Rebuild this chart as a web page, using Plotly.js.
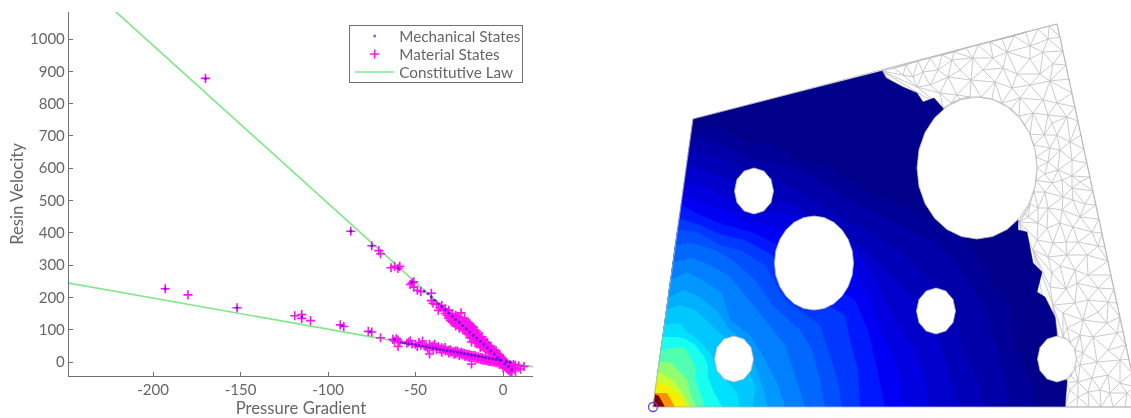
<!DOCTYPE html>
<html><head><meta charset="utf-8">
<script src="https://cdn.plot.ly/plotly-3.0.1.min.js"></script>
<style>html,body{margin:0;padding:0;background:#fff}#plot{width:1131px;height:418px;filter:blur(0.6px)}</style>
</head><body><div id="plot"></div>
<script>
// ---------- left chart: values ----------
const lawGradient = [-222,0,8,null,-248.6,0,17];
const lawVelocity = [1088,2,-43,null,245,5,-15];

const materialUpperG = [-170,-87,-75,-71,-70,-64,-62,-60,-59,-52,-53,-51,-51,-49,-47,-41,-41,-40,-38,-36,-34,-33,-31,-30,-30,-29,-28,-28,-27,-27,-26,-25,-24,-24,-23,-22,-22,-21,-21,-20,-20,-19,-19,-18,-18,-17,-17,-16,-16,-15,-15,-14,-14,-13,-13,-12,-12,-11,-11,-10,-10,-9,-9,-8,-8,-7,-7,-6,-6,-5,-5,-4,-4,-3,-3,-2,-2,-1,-1,0,0,1,1,2,2,3,3,4,4,5,5,6,7,7,9,10,12];
const materialUpperV = [878,405,360,345,335,292,296,290,296,245,240,232,248,222,218,213,190,182,178,168,162,150,160,142,128,150,135,120,125,145,118,135,108,152,128,115,100,125,92,108,85,118,75,100,62,90,108,82,70,95,60,75,88,65,52,78,58,68,45,55,38,60,48,42,30,48,35,25,40,30,18,22,35,12,25,15,5,10,-5,0,8,-5,-12,-8,-20,-10,-25,-15,-30,-12,-22,-18,-28,-10,-12,-22,-14];
const denseUpperG = [-37,-35,-33,-32,-31,-29,-27,-26,-25,-24,-23,-22,-21,-20,-20,-19,-19,-18,-18,-17,-17,-16,-16,-15,-15,-14,-14,-13,-13,-12,-12,-11,-10,-10,-9,-9,-8,-8,-7,-7,-6,-5,-5,-4,-4,-3,-2,-2,-1,-1,0,0,1,2,3,4,4,5,6];
const denseUpperV = [160,175,165,145,135,125,112,140,105,125,100,135,110,95,120,90,105,80,112,75,98,92,60,80,68,60,68,75,45,65,48,55,62,45,40,52,50,35,28,40,32,24,38,14,28,18,22,-5,0,15,-8,-18,2,-2,-18,-8,-22,-30,-8];
const materialLowerG = [-193,-180,-152,-119,-115,-115,-110,-93,-91,-77,-75,-70,-63,-62,-61,-60,-59,-60,-54,-53,-52,-48,-47,-46,-44,-42,-42,-41,-40,-39,-38,-37,-35,-34,-33,-32,-31,-30,-29,-28,-27,-26,-25,-24,-23,-22,-21,-20,-19,-18,-18,-17,-16,-15,-14,-13,-12,-11,-10,-9,-8,-7,-6,-5,-4,-3];
const materialLowerV = [227,208,168,143,147,135,128,115,110,95,93,75,70,65,72,68,62,48,62,66,56,60,52,65,48,55,25,48,42,55,38,48,30,40,45,35,28,38,32,24,34,28,20,30,22,26,18,24,14,20,-6,14,20,10,16,8,14,6,12,4,8,2,6,0,4,-2];
const denseLowerG = [-55,-50,-49,-45,-43,-40,-38,-36,-35,-33,-31,-30,-28,-27,-26,-25,-24,-23,-22,-21,-20,-19,-18,-17,-16,-15,-14,-13,-12,-11,-10,-9,-8,-7,-6,-5,-4,-3,-2];
const denseLowerV = [58,55,48,50,42,50,45,40,44,35,36,30,32,26,34,28,24,28,18,24,16,22,14,20,12,16,10,14,6,10,5,9,2,6,0,5,-2,2,0];

const mechanicalG = [-170,-87,-75,-60,-52,-45,-43,-41,-39,-37,-35,-33,-31,-29,-27,-25,-23,-21,-19,-17,-15,-13,-11,-9,-7,-5,-3,-1,1,3,5,-193,-152,-115,-92,-76,-62,-58,-56,-54,-52,-50,-48,-46,-44,-42,-40,-38,-36,-34,-32,-30,-28,-26,-24,-22,-20,-18,-16,-14,-12,-10,-8,-6,-4,-2,2,4];
const mechanicalV = [878,405,360,290,248,220,211,201,191,181,172,162,152,142,132,123,113,103,93,83,74,64,54,44,34,25,15,5,-5,-14,-24,227,168,140,112,94,70,60,58,56,55,53,51,49,47,45,43,41,39,37,36,34,32,30,28,26,24,22,20,18,16,14,12,10,8,6,2,-1];

// ---------- right chart: geometry ----------
const fieldOutline = [[653,407],[693,119],[882,71],[886,78],[903,87],[917,93],[923,102],[934,98],[942,107],[1018,218],[1018,230],[1027,232],[1033,263],[1042,272],[1037,292],[1045,297],[1055,317],[1057,335],[1067,382],[1065,407]];
const plateOutline = [[653,407],[693,119],[1057,24],[1139,407]];

const band1=[[692,130],[720,128],[745,142],[775,145],[800,160],[830,168],[862,190],[905,207],[940,222],[975,250],[990,285],[1008,300],[1015,345],[1030,380],[1035,407],[653,407]];
const band2=[[691,138],[725,145],[755,160],[790,165],[825,185],[860,205],[900,225],[940,245],[965,275],[985,310],[995,345],[1005,378],[1010,407],[653,407]];
const band3=[[689,150],[720,158],[745,170],[775,178],[805,195],[840,215],[875,235],[905,255],[935,285],[955,320],[965,355],[980,385],[985,407],[653,407]];
const band4=[[687,165],[715,175],[738,182],[760,198],[795,205],[825,225],[858,245],[885,270],[915,300],[940,340],[950,375],[958,407],[653,407]];
const band5=[[685,182],[712,190],[730,200],[755,213],[790,213],[830,230],[860,255],[878,285],[895,320],[915,350],[925,380],[930,407],[653,407]];
const band6=[[683,195],[705,205],[728,212],[760,225],[800,230],[855,270],[870,300],[880,330],[895,360],[900,385],[905,407],[653,407]];
const band7=[[681,205],[700,215],[725,225],[752,232],[778,245],[820,280],[855,300],[868,330],[875,360],[880,385],[885,407],[653,407]];
const band8=[[679,218],[700,225],[722,235],[745,240],[772,255],[800,290],[845,315],[850,340],[858,370],[860,407],[653,407]];
const band9=[[677,230],[697,232],[720,245],[740,250],[765,265],[785,300],[820,325],[828,350],[838,380],[842,407],[653,407]];
const band10=[[675,245],[693,243],[715,250],[735,262],[755,280],[772,305],[800,330],[812,350],[820,380],[825,407],[653,407]];
const band11=[[673,262],[692,258],[710,265],[728,275],[745,295],[765,320],[785,345],[795,375],[805,407],[653,407]];
const band12=[[670,280],[687,272],[705,282],[722,293],[730,320],[750,335],[765,360],[778,385],[785,407],[653,407]];
const band13=[[668,298],[683,290],[700,297],[718,312],[728,328],[748,345],[757,370],[765,395],[768,407],[653,407]];
const band14=[[666,310],[680,305],[695,310],[708,322],[722,335],[738,350],[755,385],[753,407],[653,407]];
const band15=[[664,325],[680,323],[687,332],[696,338],[708,350],[720,372],[737,393],[740,407],[653,407]];
const band16=[[662,337],[677,337],[686,339],[695,345],[703,355],[708,365],[708,378],[714,392],[722,407],[653,407]];
const band17=[[661,350],[672,348],[684,347],[691,358],[696,368],[695,378],[699,390],[705,407],[653,407]];
const band18=[[659,362],[670,362],[680,372],[687,380],[690,392],[696,407],[653,407]];
const band19=[[657,372],[666,376],[675,382],[682,392],[690,407],[653,407]];
const band20=[[656,381],[667,385],[676,392],[683,399],[686,407],[653,407]];
const band21=[[655,393],[667,393],[671,400],[675,407],[653,407]];
const band22=[[654.5,394],[659,396],[665,407],[653,407]];

const holeAx=[773.5,771,763.8,754,744.2,737,734.5,737,744.2,754,763.8,771], holeAy=[191,179.5,171,168,171,179.5,191,202.5,211,214,211,202.5];
const holeBx=[955.5,953,945.8,936,926.2,919,916.5,919,926.2,936,945.8,953], holeBy=[311,299.5,291,288,291,299.5,311,322.5,331,334,331,322.5];
const holeCx=[753.5,751,743.8,734,724.2,717,714.5,717,724.2,734,743.8,751], holeCy=[359,347.5,339,336,339,347.5,359,370.5,379,382,379,370.5];
const holeDx=[1076.5,1074,1066.8,1057,1047.2,1040,1037.5,1040,1047.2,1057,1066.8,1074], holeDy=[359,347.5,339,336,339,347.5,359,370.5,379,382,379,370.5];
const holeEx=[853.5,852.2,848.2,841.9,833.75,824.2,814,803.8,794.25,786.1,779.8,775.8,774.5,775.8,779.8,786.1,794.25,803.8,814,824.2,833.75,841.9,848.2,852.2], holeEy=[263,250.8,239.5,229.8,222.3,217.6,216,217.6,222.3,229.8,239.5,250.8,263,275.2,286.5,296.2,303.7,308.4,310,308.4,303.7,296.2,286.5,275.2];
const holeFx=[1037,1035,1029,1019.4,1007,992.5,977,961.5,947,934.6,925,919,917,919,925,934.6,947,961.5,977,992.5,1007,1019.4,1029,1035], holeFy=[168,149.6,132.5,117.8,106.5,99.4,97,99.4,106.5,117.8,132.5,149.6,168,186.4,203.5,218.2,229.5,236.6,239,236.6,229.5,218.2,203.5,186.4];

const meshBoundaryNodes = [[882,71],[894,68],[906,65],[918,61],[930,58],[942,55],[954,52],[966,48],[978,45],[990,42],[1002,39],[1014,36],[1026,32],[1038,29],[1049,26],[1057,24],[1060,37],[1063,51],[1066,65],[1069,79],[1072,93],[1075,107],[1078,121],[1081,135],[1084,149],[1087,163],[1090,177],[1093,191],[1096,205],[1099,219],[1102,233],[1105,247],[1108,261],[1111,275],[1114,289],[1117,303],[1120,317],[1123,331],[1126,345],[1129,359],[1132,373],[1135,387],[1139,407],[1065,407],[1077,407],[1089,407],[1101,407],[1113,407],[1125,407]];
const meshHoleNodes = [[943,108],[951,103],[960,99],[970,97],[981,97],[992,99],[1002,103],[1011,109],[1019,116],[1025,125],[1030,134],[1034,145],[1036,157],[1037,168],[1036,180],[1034,192],[1030,204],[1025,214],[1019,222],[1063,336],[1070,342],[1075,350],[1076,359],[1075,368],[1071,376],[1066,382]];
const meshInnerNodes = [[1048,39],[1030,46],[1007,52],[993,58],[983,70],[1003,68],[1017,74],[1030,59],[1043,52],[1053,64],[1040,74],[1030,85],[1050,81],[1043,100],[1057,103],[1033,113],[1020,98],[1012,88],[995,82],[971,80],[960,70],[973,58],[948,77],[938,70],[923,72],[913,77],[903,75],[957,95],[930,85],[917,87],[940,93],[952,60],[1048,115],[1067,117],[1052,123],[1044,135],[1057,135],[1070,142],[1050,148],[1060,150],[1048,162],[1072,160],[1058,170],[1045,174],[1072,176],[1062,180],[1052,183],[1080,182],[1045,192],[1072,188],[1063,197],[1048,208],[1062,210],[1073,200],[1085,204],[1038,208],[1028,217],[1047,228],[1038,223],[1073,227],[1060,223],[1092,232],[1080,217],[1037,240],[1066,242],[1053,243],[1078,242],[1098,246],[1048,257],[1067,255],[1087,255],[1033,250],[1075,270],[1088,275],[1060,266],[1052,273],[1077,283],[1098,288],[1066,289],[1050,287],[1088,300],[1075,303],[1063,313],[1053,305],[1098,312],[1108,302],[1083,320],[1067,328],[1107,323],[1080,335],[1093,337],[1117,333],[1097,362],[1083,353],[1108,350],[1120,360],[1080,365],[1092,378],[1108,375],[1078,382],[1088,392],[1100,390],[1120,383],[1070,390],[1078,397],[1110,393],[1127,393]];

// ---------- styles ----------
const GREY='#666666', FONT='Lato, "Open Sans", sans-serif';
const bands=[band1,band2,band3,band4,band5,band6,band7,band8,band9,band10,band11,band12,band13,band14,band15,band16,band17,band18,band19,band20,band21,band22];
const bandColors=['#000098','#0000a8','#0000b8','#0000cc','#0000e0','#0000f4','#0018ff','#0038ff','#0050ff','#0068ff','#0080ff','#0098ff','#00b0ff','#00c8ff','#00e0ff','#18fff0','#50ffb0','#90ff70','#c8ff30','#f4f000','#ff9000','#800000'];
const holes=[[holeAx,holeAy],[holeBx,holeBy],[holeCx,holeCy],[holeDx,holeDy],[holeEx,holeEy],[holeFx,holeFy]];

function triangulate(pts){
  const P=pts.concat([[-5000,-5000],[7000,-5000],[1000,9000]]), n=pts.length;
  let tris=[[n,n+1,n+2]];
  const inCirc=(t,p)=>{const [a,b,c]=t.map(i=>P[i]);
    const ax=a[0]-p[0],ay=a[1]-p[1],bx=b[0]-p[0],by=b[1]-p[1],cx=c[0]-p[0],cy=c[1]-p[1];
    const d=(ax*ax+ay*ay)*(bx*cy-cx*by)-(bx*bx+by*by)*(ax*cy-cx*ay)+(cx*cx+cy*cy)*(ax*by-bx*ay);
    const o=(b[0]-a[0])*(c[1]-a[1])-(b[1]-a[1])*(c[0]-a[0]);
    return o>0? d>0 : d<0;};
  for(let i=0;i<n;i++){
    const bad=[],good=[]; tris.forEach(t=>(inCirc(t,P[i])?bad:good).push(t));
    const cnt={}; bad.forEach(t=>[[t[0],t[1]],[t[1],t[2]],[t[2],t[0]]].forEach(([u,v])=>{const k=u<v?u+'_'+v:v+'_'+u;cnt[k]=(cnt[k]||0)+1;}));
    Object.keys(cnt).filter(k=>cnt[k]===1).forEach(k=>{const [u,v]=k.split('_').map(Number);good.push([u,v,i]);});
    tris=good;
  }
  return tris.filter(t=>t.every(i=>i<n));
}
function insidePoly(p,poly){let c=false;for(let i=0,j=poly.length-1;i<poly.length;j=i++){
  const a=poly[i],b=poly[j];
  if((a[1]>p[1])!==(b[1]>p[1])&&p[0]<(b[0]-a[0])*(p[1]-a[1])/(b[1]-a[1])+a[0])c=!c;}return c;}
const meshNodes=meshBoundaryNodes.concat(meshHoleNodes,meshInnerNodes);
const meshX=[],meshY=[],seen={};
triangulate(meshNodes).forEach(t=>{
  const g=[0,1].map(k=>(meshNodes[t[0]][k]+meshNodes[t[1]][k]+meshNodes[t[2]][k])/3);
  if(!insidePoly(g,plateOutline))return;
  [[t[0],t[1]],[t[1],t[2]],[t[2],t[0]]].forEach(([u,v])=>{
    const k=u<v?u+'_'+v:v+'_'+u; if(seen[k])return; seen[k]=1;
    meshX.push(meshNodes[u][0],meshNodes[v][0],null); meshY.push(meshNodes[u][1],meshNodes[v][1],null);});
});
const xs=a=>a.map(p=>p[0]), ys=a=>a.map(p=>p[1]);
const closed=a=>a.concat([a[0]]);
const onRight={xaxis:'x2',yaxis:'y2',showlegend:false,hoverinfo:'skip'};

const traces=[
 {x:lawGradient,y:lawVelocity,mode:'lines',name:'Constitutive Law',legendrank:3,line:{color:'#80e88a',width:1.7}},
 {x:materialUpperG.concat(denseUpperG,materialLowerG,denseLowerG),y:materialUpperV.concat(denseUpperV,materialLowerV,denseLowerV),mode:'markers',name:'Material States',legendrank:2,
  marker:{symbol:'cross-thin',size:6.5,color:'#ff10f0',line:{color:'#ff10f0',width:1.6}}},
 {x:mechanicalG,y:mechanicalV,mode:'markers',name:'Mechanical States',legendrank:1,marker:{symbol:'circle',size:3,color:'#1808c8',opacity:0.6}},
 Object.assign({x:meshX,y:meshY,mode:'lines',line:{color:'#c4c4c4',width:0.9}},onRight),
 Object.assign({x:xs(fieldOutline),y:ys(fieldOutline),mode:'lines',fill:'toself',fillcolor:'#00008a',line:{color:'#00008a',width:0.5}},onRight)
];
bands.forEach((b,i)=>traces.push(Object.assign({x:xs(b),y:ys(b),mode:'lines',fill:'toself',fillcolor:bandColors[i],line:{color:bandColors[i],width:0}},onRight)));
holes.forEach(h=>traces.push(Object.assign({x:closed(h[0]),y:closed(h[1]),mode:'lines',fill:'toself',fillcolor:'#ffffff',line:{color:'#b8b8b8',width:0.8}},onRight)));
traces.push(Object.assign({x:xs(closed(plateOutline)),y:ys(closed(plateOutline)),mode:'lines',line:{color:'#b0b0ba',width:0.8}},onRight));
traces.push(Object.assign({x:[653],y:[407],mode:'markers',marker:{symbol:'circle-open',size:9,color:'#5a48e0',line:{color:'#5a48e0',width:1.3}}},onRight));

const W=1131,H=418;
const axisBase={showgrid:false,zeroline:false,showline:true,linecolor:'#707070',linewidth:1.2,ticks:'inside',ticklen:4,tickwidth:1,tickcolor:'#707070',
  tickfont:{family:FONT,size:15,color:GREY}};
const layout={width:W,height:H,margin:{l:0,r:0,t:0,b:0},paper_bgcolor:'#fff',plot_bgcolor:'rgba(0,0,0,0)',showlegend:true,
 font:{family:FONT,color:GREY},
 xaxis:Object.assign({},axisBase,{domain:[69/W,533/W],range:[-248,17.1],anchor:'y',tickvals:[-200,-150,-100,-50,0],ticktext:['-200','-150','-100','-50','0'],
   title:{text:'Pressure Gradient',font:{family:FONT,size:16.7,color:GREY},standoff:9}}),
 yaxis:Object.assign({},axisBase,{domain:[(H-376)/H,(H-12)/H],range:[-43.3,1083.6],anchor:'x',tickvals:[0,100,200,300,400,500,600,700,800,900,1000],
   title:{text:'Resin Velocity',font:{family:FONT,size:16.7,color:GREY},standoff:2}}),
 xaxis2:{domain:[640/W,1],range:[640,1131],anchor:'y2',visible:false},
 yaxis2:{domain:[0,1],range:[418,0],anchor:'x2',visible:false},
 legend:{x:349/W,y:(H-25)/H,xanchor:'left',yanchor:'top',bgcolor:'#fff',bordercolor:'#707070',borderwidth:1.2,itemwidth:39,
   font:{family:FONT,size:15.3,color:GREY},traceorder:'normal'}
};
Plotly.newPlot('plot',traces,layout,{displayModeBar:false,staticPlot:true}).then(gd=>{
  // tighten the legend rows to the reference's spacing
  const rows=gd.querySelectorAll('.legend .traces');
  rows.forEach((r,i)=>{const m=/translate\(([^,]+),/.exec(r.getAttribute('transform'));
    r.setAttribute('transform','translate('+(m?m[1]:5)+','+(11+18*i)+')');});
  const bg=gd.querySelector('.legend .bg');
  if(bg){bg.setAttribute('height',57);bg.setAttribute('width',173);}
  const clip=document.querySelector('[id^="legend"] rect');
  if(clip){clip.setAttribute('width',180);}
});
</script></body></html>
